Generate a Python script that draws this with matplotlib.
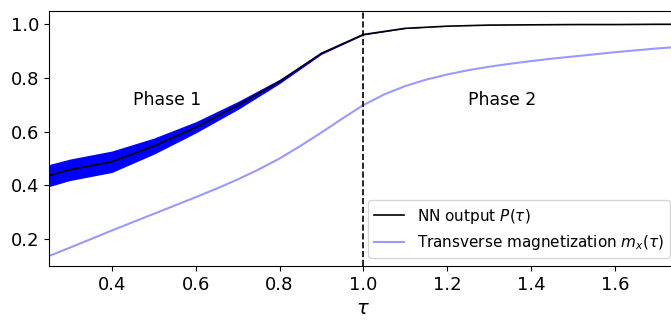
import matplotlib
matplotlib.use("Agg")
import matplotlib.pyplot as plt
import numpy as np

# NN output P(tau) with its spread
tau_nn = [0.2, 0.3, 0.4, 0.5, 0.6, 0.7, 0.8, 0.9, 1.0, 1.1, 1.2, 1.3, 1.4, 1.5, 1.6, 1.7, 1.8]
p_nn = [0.415, 0.458, 0.488, 0.546, 0.616, 0.697, 0.787, 0.892, 0.962, 0.985, 0.993, 0.997,
        0.998, 0.999, 0.999, 1.0, 1.0]
p_err = [0.042, 0.040, 0.040, 0.030, 0.021, 0.015, 0.008, 0.004, 0.002, 0.001, 0.0, 0.0,
         0.0, 0.0, 0.0, 0.0, 0.0]

# transverse magnetization m_x(tau)
tau_mx = [0.25, 0.30, 0.35, 0.40, 0.45, 0.50, 0.55, 0.60, 0.65, 0.70, 0.75, 0.80, 0.85,
          0.90, 0.95, 1.00, 1.05, 1.10, 1.15, 1.20, 1.25, 1.30, 1.35, 1.40, 1.45, 1.50,
          1.55, 1.60, 1.65, 1.70, 1.75]
mx = [0.137, 0.168, 0.200, 0.232, 0.263, 0.294, 0.325, 0.356, 0.388, 0.422, 0.459, 0.500,
      0.547, 0.597, 0.649, 0.699, 0.739, 0.770, 0.794, 0.813, 0.829, 0.842, 0.853, 0.863,
      0.872, 0.880, 0.888, 0.896, 0.903, 0.910, 0.916]

fig = plt.figure(figsize=(6.71, 3.2), dpi=100)
ax = fig.add_axes([0.073, 0.169, 0.937, 0.797])

lo = np.array(p_nn) - np.array(p_err)
hi = np.array(p_nn) + np.array(p_err)
ax.fill_between(tau_nn, lo, hi, color='blue', lw=0)
ax.plot(tau_nn, p_nn, color='black', lw=1.2, label=r'NN output $P(\tau)$')
ax.plot(tau_mx, mx, color='blue', alpha=0.4, lw=1.5,
        label=r'Transverse magnetization $m_x(\tau)$')
ax.axvline(1.0, color='black', ls='--', lw=1.2)

ax.text(0.45, 0.7, 'Phase 1', fontsize=12.4)
ax.text(1.25, 0.7, 'Phase 2', fontsize=12.4)

ax.set_xlim(0.25, 1.75)
ax.set_ylim(0.1, 1.05)
ax.set_xticks([0.4, 0.6, 0.8, 1.0, 1.2, 1.4, 1.6])
ax.set_yticks([0.2, 0.4, 0.6, 0.8, 1.0])
ax.tick_params(labelsize=13)
ax.set_xlabel(r'$\tau$', fontsize=14)
ax.legend(loc='lower right', fontsize=11)

fig.savefig('out.png', dpi=100)
